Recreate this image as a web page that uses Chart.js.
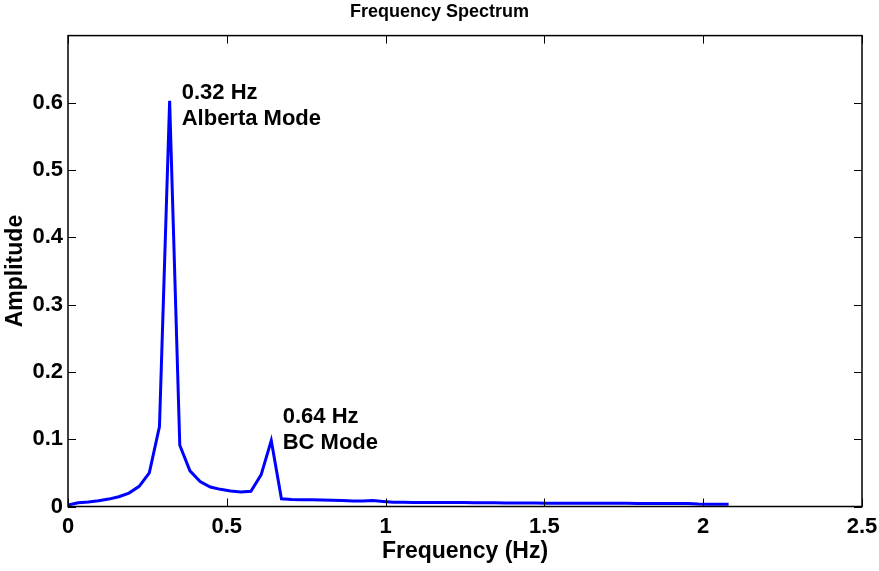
<!DOCTYPE html>
<html>
<head>
<meta charset="utf-8">
<script src="https://cdn.jsdelivr.net/npm/chart.js@4.4.1/dist/chart.umd.min.js"></script>
<style>
  html, body { margin: 0; padding: 0; background: #fff; }
  #wrap { width: 879px; height: 571px; }
</style>
</head>
<body>
<div id="wrap"><canvas id="spectrum" width="879" height="571"></canvas></div>
<script>
// frequency bins (Hz)
const freqs = [0, 0.032, 0.064, 0.096, 0.128, 0.16, 0.192, 0.224, 0.256, 0.288,
    0.32, 0.352, 0.384, 0.416, 0.448, 0.48, 0.512, 0.544, 0.576, 0.608,
    0.64, 0.672, 0.704, 0.736, 0.768, 0.8, 0.832, 0.864, 0.896, 0.928,
    0.96, 0.992, 1.024, 1.056, 1.088, 1.12, 1.152, 1.184, 1.216, 1.248,
    1.28, 1.312, 1.344, 1.376, 1.408, 1.44, 1.472, 1.504, 1.536, 1.568,
    1.6, 1.632, 1.664, 1.696, 1.728, 1.76, 1.792, 1.824, 1.856, 1.888,
    1.92, 1.952, 1.984, 2.016, 2.048, 2.08];

// amplitude
const amplitude = [0.002, 0.0055, 0.0068, 0.0085, 0.011, 0.0145, 0.020, 0.030, 0.050, 0.119,
    0.603, 0.091, 0.053, 0.037, 0.029, 0.0255, 0.023, 0.0215, 0.0225, 0.047,
    0.098, 0.0115, 0.0105, 0.0102, 0.0101, 0.0098, 0.0094, 0.0088, 0.0082, 0.0083,
    0.0089, 0.0076, 0.0064, 0.0062, 0.0061, 0.0061, 0.0060, 0.0060, 0.0059, 0.0058,
    0.0055, 0.0054, 0.0054, 0.0053, 0.0053, 0.0052, 0.0051, 0.0048, 0.0048, 0.0048,
    0.0048, 0.0047, 0.0047, 0.0047, 0.0047, 0.0047, 0.0046, 0.0046, 0.0046, 0.0046,
    0.0046, 0.0045, 0.0037, 0.0035, 0.0034, 0.0033];

const xTicks = [0, 0.5, 1, 1.5, 2, 2.5];
const yTicks = [0, 0.1, 0.2, 0.3, 0.4, 0.5, 0.6];

// peak labels, anchored in data units (x = Hz, y = amplitude at first baseline)
const peakLabels = [
    { x: 0.358, y: 0.6056, lines: ["0.32 Hz", "Alberta Mode"] },
    { x: 0.676, y: 0.1234, lines: ["0.64 Hz", "BC Mode"] }
];

const FONT = "'Liberation Sans', Arial, Helvetica, sans-serif";

// MATLAB style box with inward ticks + text labels
const boxPlugin = {
    id: 'box',
    afterDatasetsDraw(chart) {
        const ctx = chart.ctx;
        const a = chart.chartArea;
        const xs = chart.scales.x, ys = chart.scales.y;
        const len = 8;
        ctx.save();
        ctx.strokeStyle = '#000';
        ctx.lineWidth = 1;
        xTicks.forEach(v => {
            const px = Math.round(xs.getPixelForValue(v)) + 0.5;
            ctx.beginPath();
            ctx.moveTo(px, a.bottom); ctx.lineTo(px, a.bottom - len);
            ctx.moveTo(px, a.top); ctx.lineTo(px, a.top + len);
            ctx.stroke();
        });
        yTicks.forEach(v => {
            const py = Math.round(ys.getPixelForValue(v)) + 0.5;
            ctx.beginPath();
            ctx.moveTo(a.left, py); ctx.lineTo(a.left + len, py);
            ctx.moveTo(a.right, py); ctx.lineTo(a.right - len, py);
            ctx.stroke();
        });
        ctx.lineWidth = 1.5;
        ctx.strokeRect(a.left, a.top, a.right - a.left, a.bottom - a.top);

        ctx.fillStyle = '#000';
        ctx.font = 'bold 22px ' + FONT;
        ctx.textAlign = 'left';
        ctx.textBaseline = 'alphabetic';
        peakLabels.forEach(l => {
            const px = xs.getPixelForValue(l.x);
            const py = ys.getPixelForValue(l.y);
            l.lines.forEach((t, i) => ctx.fillText(t, px, py + i * 26));
        });
        ctx.restore();
    }
};

const fmt = v => {
    const n = Number(Number(v).toFixed(2));
    if (n > 0.65 && n < 0.75) return '';
    return String(n);
};

new Chart(document.getElementById('spectrum'), {
    type: 'line',
    data: {
        datasets: [{
            data: freqs.map((f, i) => ({ x: f, y: amplitude[i] })),
            borderColor: '#0000ff',
            borderWidth: 3,
            pointRadius: 0,
            tension: 0,
            fill: false
        }]
    },
    options: {
        responsive: false,
        animation: false,
        layout: { padding: 0 },
        plugins: {
            legend: { display: false },
            tooltip: { enabled: false },
            title: {
                display: true,
                text: 'Frequency Spectrum',
                color: '#000',
                font: { family: FONT, size: 18, weight: 'bold' },
                padding: { top: 1, bottom: 13 }
            }
        },
        scales: {
            x: {
                type: 'linear',
                min: 0, max: 2.5,
                afterFit: s => { s.height = 64.5; s.paddingRight = 17; s.paddingLeft = 0; },
                afterBuildTicks: s => { s.ticks = xTicks.map(v => ({ value: v })); },
                grid: { display: false, drawTicks: false },
                border: { display: false },
                ticks: {
                    color: '#000', padding: 7, maxRotation: 0, autoSkip: false,
                    font: { family: FONT, size: 22, weight: 'bold' },
                    callback: fmt
                },
                title: {
                    display: true, text: 'Frequency (Hz)', color: '#000',
                    font: { family: FONT, size: 23, weight: 'bold' },
                    padding: { top: 0, bottom: 6 }
                }
            },
            y: {
                min: 0, max: 0.7,
                afterFit: s => { s.width = 68; s.paddingTop = 0; s.paddingBottom = 0; },
                afterBuildTicks: s => { s.ticks = yTicks.map(v => ({ value: v })); },
                grid: { display: false, drawTicks: false },
                border: { display: false },
                ticks: {
                    color: '#000', padding: 5, autoSkip: false,
                    font: { family: FONT, size: 22, weight: 'bold' },
                    callback: fmt
                },
                title: {
                    display: true, text: 'Amplitude', color: '#000',
                    font: { family: FONT, size: 23, weight: 'bold' },
                    padding: { top: 2, bottom: 0 }
                }
            }
        }
    },
    plugins: [boxPlugin]
});
</script>
</body>
</html>
